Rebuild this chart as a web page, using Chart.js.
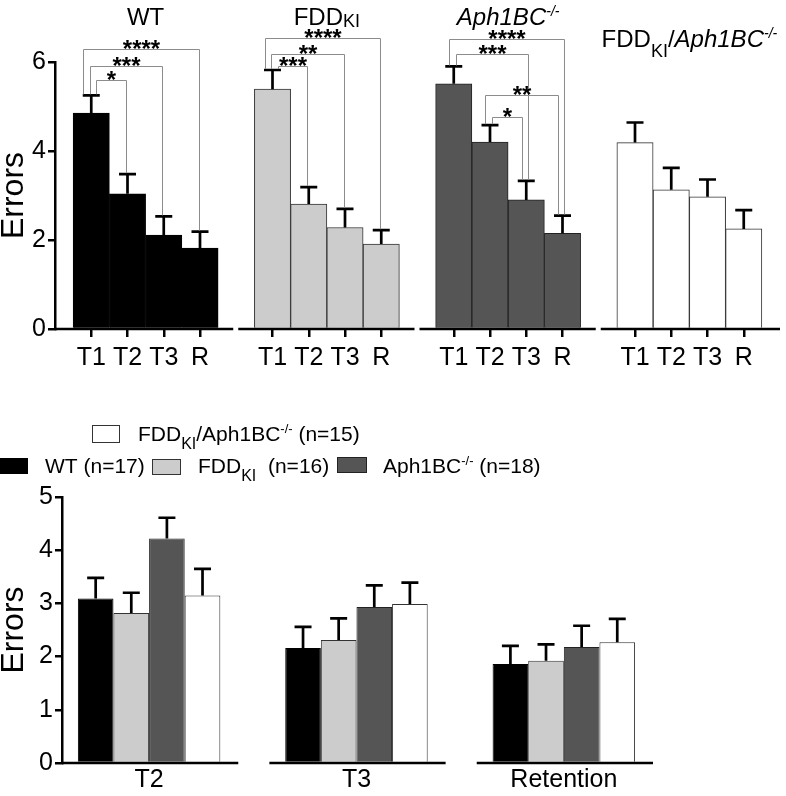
<!DOCTYPE html>
<html>
<head>
<meta charset="utf-8">
<script src="https://cdn.jsdelivr.net/npm/chart.js@4.4.1/dist/chart.umd.min.js"></script>
<style>
  body { margin: 0; background: #fff; }
  canvas { display: block; }
</style>
</head>
<body>
<canvas id="topChart" width="786" height="400"></canvas>
<canvas id="bottomChart" width="786" height="396"></canvas>
<script>
const FONT = '"Liberation Sans", Arial, Helvetica, sans-serif';

// --- top panel: errors per trial, one group per genotype ---
const trials = ['T1', 'T2', 'T3', 'R'];
const topTitles = ['WT', 'FDD_{KI}', '|Aph1BC^{-/-}|', 'FDD_{KI}/|Aph1BC^{-/-}|'];

const wtMeans  = [4.85, 3.04, 2.11, 1.82];
const wtSem    = [0.40, 0.44, 0.42, 0.37];
const fddMeans = [5.39, 2.81, 2.28, 1.91];
const fddSem   = [0.43, 0.38, 0.42, 0.31];
const aphMeans = [5.51, 4.20, 2.90, 2.15];
const aphSem   = [0.39, 0.38, 0.43, 0.40];
const dkMeans  = [4.19, 3.13, 2.97, 2.25];
const dkSem    = [0.45, 0.49, 0.39, 0.42];

// significance brackets: [from trial, to trial, bracket height (errors), stars]
const wtBrackets  = [[0, 1, 5.60, '*'], [0, 2, 5.92, '***'], [0, 3, 6.30, '****']];
const fddBrackets = [[0, 1, 5.90, '***'], [0, 2, 6.19, '**'], [0, 3, 6.54, '****']];
const aphBrackets = [[0, 3, 6.52, '****'], [0, 2, 6.18, '***'], [1, 3, 5.25, '**'], [1, 2, 4.76, '*']];
const dkBrackets  = [];

// --- bottom panel: genotypes compared per session ---
const sessions = ['T2', 'T3', 'Retention'];
const legendLabels = ['WT (n=17)', 'FDD_{KI}  (n=16)', 'Aph1BC^{-/-} (n=18)', 'FDD_{KI}/Aph1BC^{-/-} (n=15)'];

const wtSession  = [3.09, 2.16, 1.86];
const wtSessSem  = [0.39, 0.40, 0.34];
const fddSession = [2.82, 2.31, 1.92];
const fddSessSem = [0.38, 0.41, 0.31];
const aphSession = [4.22, 2.93, 2.18];
const aphSessSem = [0.39, 0.41, 0.40];
const dkSession  = [3.15, 2.99, 2.27];
const dkSessSem  = [0.50, 0.40, 0.44];

// styling
const fills   = ['#000000', '#cccccc', '#555555', '#ffffff'];
const borders = ['#000000', '#333333', '#222222', '#333333'];

Chart.defaults.font.family = FONT;
Chart.defaults.color = '#000';

const topMeans = [wtMeans, fddMeans, aphMeans, dkMeans];
const topSems = [wtSem, fddSem, aphSem, dkSem];
const topBrackets = [wtBrackets, fddBrackets, aphBrackets, dkBrackets];

// category slots: an empty slot before each group and after the last one
const topLabels = [''];
topMeans.forEach(() => topLabels.push(...trials, ''));
const slot = (g, j) => 1 + g * 5 + j;

function spread(vals, g) {
  return topLabels.map((_, i) => {
    const k = i - slot(g, 0);
    return k >= 0 && k < trials.length ? vals[k] : null;
  });
}

// tiny markup: _{sub} ^{sup} |italic|
function parseRich(s) {
  const parts = [];
  let italic = false, buf = '', i = 0;
  const flush = () => { if (buf) parts.push({ t: buf, mode: 'n', italic }); buf = ''; };
  while (i < s.length) {
    const c = s[i];
    if (c === '|') { flush(); italic = !italic; i++; }
    else if ((c === '_' || c === '^') && s[i + 1] === '{') {
      flush();
      const end = s.indexOf('}', i);
      parts.push({ t: s.slice(i + 2, end), mode: c === '_' ? 'sub' : 'sup', italic });
      i = end + 1;
    } else { buf += c; i++; }
  }
  flush();
  return parts;
}

function drawRich(ctx, s, x, y, size, align, subDrop) {
  const parts = parseRich(s);
  const fontFor = p => (p.italic ? 'italic ' : '') +
    (p.mode === 'n' ? size : Math.round(size * (p.mode === 'sub' ? 0.75 : 0.6))) + 'px ' + FONT;
  let w = 0;
  parts.forEach(p => { ctx.font = fontFor(p); p.w = ctx.measureText(p.t).width; w += p.w; });
  let cx = align === 'center' ? x - w / 2 : x;
  ctx.textAlign = 'left';
  ctx.textBaseline = 'alphabetic';
  ctx.fillStyle = '#000';
  parts.forEach(p => {
    ctx.font = fontFor(p);
    const dy = p.mode === 'sub' ? size * subDrop : p.mode === 'sup' ? -size * 0.38 : 0;
    ctx.fillText(p.t, cx, y + dy);
    cx += p.w;
  });
}

// one-sided SEM bars on top of every bar
const errorBars = {
  id: 'errorBars',
  afterDatasetsDraw(chart) {
    const { ctx, scales: { y } } = chart;
    ctx.save();
    ctx.strokeStyle = '#000';
    ctx.lineWidth = 2.7;
    chart.data.datasets.forEach((ds, di) => {
      chart.getDatasetMeta(di).data.forEach((bar, i) => {
        const raw = ds.data[i];
        if (raw == null) return;
        const v = typeof raw === 'object' ? raw.y : raw;
        const top = y.getPixelForValue(v + ds.sem[i]);
        ctx.beginPath();
        ctx.moveTo(bar.x, bar.y);
        ctx.lineTo(bar.x, top);
        ctx.moveTo(bar.x - 8.5, top);
        ctx.lineTo(bar.x + 8.5, top);
        ctx.stroke();
      });
    });
    ctx.restore();
  }
};

const titleBaseline = [25, 25, 25, 47];

const topDecor = {
  id: 'topDecor',
  afterDatasetsDraw(chart) {
    const { ctx, chartArea, scales: { x, y } } = chart;
    const px = i => x.getPixelForValue(i);
    const y0 = y.getPixelForValue(0);
    ctx.save();

    // broken baseline, one piece per group
    ctx.strokeStyle = '#000';
    ctx.lineWidth = 2.5;
    topMeans.forEach((_, g) => {
      const a = g === 0 ? chartArea.left : px(g * 5) + 2;
      const b = g === topMeans.length - 1 ? chartArea.right : px(g * 5 + 5) - 3;
      ctx.beginPath();
      ctx.moveTo(a, y0);
      ctx.lineTo(b, y0);
      ctx.stroke();
    });

    // significance brackets
    topBrackets.forEach((list, g) => {
      const errTop = j => y.getPixelForValue(topMeans[g][j] + topSems[g][j]);
      const ends = {};
      list.forEach((b, k) => {
        [b[0], b[1]].forEach((bar, side) => {
          (ends[bar] = ends[bar] || []).push({ k, side, h: b[2] });
        });
      });
      const off = {};
      Object.values(ends).forEach(arr => {
        arr.sort((p, q) => q.h - p.h);
        const n = arr.length;
        arr.forEach((e, r) => {
          const d = ((n - 1) / 2 - r) * 6.5;
          off[e.k + '-' + e.side] = (e.side === 0 ? -d : d) - 1.5;
        });
      });
      list.forEach(([a, b, h, stars], k) => {
        const xa = Math.round(px(slot(g, a)) + off[k + '-0']) + 0.5;
        const xb = Math.round(px(slot(g, b)) + off[k + '-1']) + 0.5;
        const yh = Math.round(y.getPixelForValue(h)) + 0.5;
        ctx.strokeStyle = '#8c8c8c';
        ctx.lineWidth = 1;
        ctx.beginPath();
        ctx.moveTo(xa, errTop(a) - 1);
        ctx.lineTo(xa, yh);
        ctx.lineTo(xb, yh);
        ctx.lineTo(xb, errTop(b) - 1);
        ctx.stroke();
        ctx.fillStyle = '#000';
        ctx.font = 'bold 24px ' + FONT;
        ctx.textAlign = 'center';
        ctx.textBaseline = 'alphabetic';
        ctx.fillText(stars, (xa + xb) / 2, yh + 7);
      });
    });

    // group titles
    topTitles.forEach((t, g) => {
      const cx = (px(slot(g, 0)) + px(slot(g, trials.length - 1))) / 2;
      drawRich(ctx, t, cx, titleBaseline[g], 24, 'center', g === 3 ? 0.4 : 0.1);
    });
    ctx.restore();
  }
};

new Chart(document.getElementById('topChart'), {
  type: 'bar',
  data: {
    labels: topLabels,
    datasets: topMeans.map((m, g) => ({
      label: topTitles[g],
      data: spread(m, g),
      sem: spread(topSems[g], g),
      backgroundColor: fills[g],
      borderColor: borders[g],
      borderWidth: 1,
      grouped: false,
      categoryPercentage: 1,
      barPercentage: 1
    }))
  },
  options: {
    responsive: false,
    animation: false,
    devicePixelRatio: 1,
    layout: { padding: { top: 62, right: 5, left: 0, bottom: 0 } },
    plugins: { legend: { display: false }, tooltip: { enabled: false } },
    scales: {
      x: {
        type: 'category',
        offset: false,
        grid: {
          offset: false,
          drawOnChartArea: false,
          tickLength: 8,
          lineWidth: 2.5,
          color: c => topLabels[c.index] ? '#000' : 'rgba(0,0,0,0)'
        },
        border: { display: false },
        ticks: { font: { size: 25 }, color: '#000', padding: 6, autoSkip: false, maxRotation: 0 },
        afterFit: s => { s.height = 71; }
      },
      y: {
        min: 0,
        max: 6,
        ticks: { stepSize: 2, font: { size: 25 }, color: '#000', padding: 2 },
        grid: { drawOnChartArea: false, tickLength: 7, lineWidth: 2.5, color: '#000' },
        border: { display: true, width: 2.5, color: '#000' },
        title: { display: true, text: 'Errors', font: { size: 32, lineHeight: 0.9 }, color: '#000', padding: 0 },
        afterFit: s => { s.width = 55; }
      }
    }
  },
  plugins: [errorBars, topDecor]
});

// --- bottom chart ---
const sessMeans = [wtSession, fddSession, aphSession, dkSession];
const sessSems = [wtSessSem, fddSessSem, aphSessSem, dkSessSem];

// legend slots: [boxX, boxY, boxW, boxH, textX, textBaseline]
const legendSlots = [
  [0, 58, 28, 16, 45, 73],
  [152, 59, 29, 16, 198, 73],
  [337, 57, 30, 16, 383, 73],
  [92, 25, 28, 18, 138, 41]
];

const bottomDecor = {
  id: 'bottomDecor',
  afterDatasetsDraw(chart) {
    const { ctx, scales: { x, y } } = chart;
    const y0 = y.getPixelForValue(0);
    ctx.save();
    ctx.strokeStyle = '#000';
    ctx.lineWidth = 2.5;
    sessions.forEach((_, i) => {
      const a = i === 0 ? x.min : i - 0.42;
      ctx.beginPath();
      ctx.moveTo(x.getPixelForValue(a), y0);
      ctx.lineTo(x.getPixelForValue(i + 0.43), y0);
      ctx.stroke();
    });

    // legend
    chart.data.datasets.forEach((ds, i) => {
      const [bx, by, bw, bh, tx, ty] = legendSlots[i];
      ctx.fillStyle = ds.backgroundColor;
      ctx.fillRect(bx, by, bw, bh);
      ctx.strokeStyle = ds.borderColor;
      ctx.lineWidth = 1;
      ctx.strokeRect(bx + 0.5, by + 0.5, bw - 1, bh - 1);
      drawRich(ctx, ds.label, tx, ty, 21, 'left', 0.4);
    });
    ctx.restore();
  }
};

new Chart(document.getElementById('bottomChart'), {
  type: 'bar',
  data: {
    datasets: sessMeans.map((m, g) => ({
      label: legendLabels[g],
      data: sessions.map((_, i) => ({ x: i, y: m[i] })),
      sem: sessSems[g],
      backgroundColor: fills[g],
      borderColor: borders[g],
      borderWidth: 1,
      categoryPercentage: 0.687,
      barPercentage: 1
    }))
  },
  options: {
    responsive: false,
    animation: false,
    devicePixelRatio: 1,
    layout: { padding: { top: 97, right: 133, left: 0, bottom: 0 } },
    plugins: { legend: { display: false }, tooltip: { enabled: false } },
    scales: {
      x: {
        type: 'linear',
        min: -0.42,
        max: 2.43,
        offset: false,
        grid: { display: false },
        border: { display: false },
        afterBuildTicks: s => { s.ticks = sessions.map((_, i) => ({ value: i })); },
        ticks: { callback: v => sessions[v], font: { size: 25 }, color: '#000', padding: -6, autoSkip: false, maxRotation: 0 },
        afterFit: s => { s.height = 33; }
      },
      y: {
        min: 0,
        max: 5,
        ticks: { stepSize: 1, font: { size: 25 }, color: '#000', padding: 2 },
        grid: { drawOnChartArea: false, tickLength: 7, lineWidth: 2.5, color: '#000' },
        border: { display: true, width: 2.5, color: '#000' },
        title: { display: true, text: 'Errors', font: { size: 32, lineHeight: 0.9 }, color: '#000', padding: 0 },
        afterFit: s => { s.width = 62; }
      }
    }
  },
  plugins: [errorBars, bottomDecor]
});
</script>
</body>
</html>
